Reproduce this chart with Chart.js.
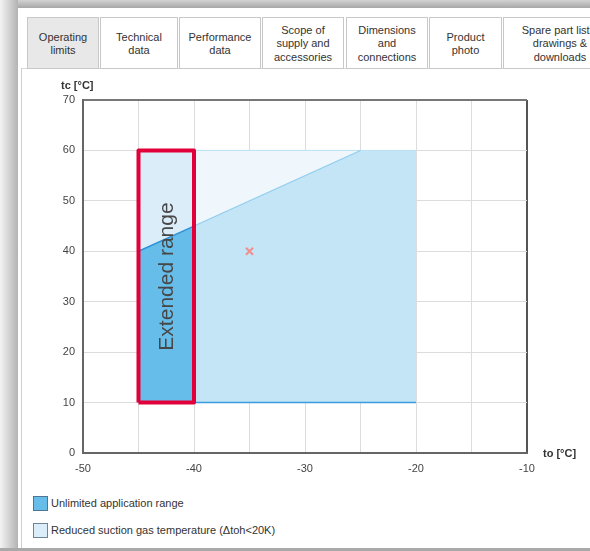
<!DOCTYPE html>
<html><head><meta charset="utf-8">
<script src="https://cdn.jsdelivr.net/npm/chart.js@4.4.1/dist/chart.umd.min.js"></script>
<style>
html,body{margin:0;padding:0;}
body{width:590px;height:551px;overflow:hidden;position:relative;background:#fff;font-family:"Liberation Sans",Arial,sans-serif;}
.shadow-top{position:absolute;left:0;top:0;width:590px;height:8px;background:linear-gradient(to bottom,#d2d2d2,#a7a7a7);}
.shadow-left{position:absolute;left:0;top:0;width:18px;height:551px;background:linear-gradient(to right,#f4f4f4,#b3b3b3);}
.shadow-bottom{position:absolute;left:0;top:548px;width:590px;height:3px;background:#a9a9a9;}
.panel{position:absolute;left:21px;top:68px;width:580px;height:480px;border-left:1px solid #cfcfcf;border-top:1px solid #d8d8d8;box-sizing:border-box;}
.tab{position:absolute;top:17px;height:52px;padding-top:2px;border:1px solid #c8c8c8;box-sizing:border-box;display:flex;align-items:center;justify-content:center;text-align:center;font-size:11px;line-height:13.5px;color:#333;background:#fff;white-space:nowrap;}
.tab.active{background:#e8e8e8;}
.lg-box{position:absolute;left:33px;width:15px;height:15px;box-sizing:border-box;border:1px solid #4f7590;}
.lg-text{position:absolute;left:51px;font-size:11px;color:#333;line-height:13px;white-space:nowrap;}
#wrap{position:absolute;left:0;top:0;width:590px;height:551px;}
</style>
</head><body>
<div class="shadow-top"></div>
<div class="shadow-left"></div>
<div class="shadow-bottom"></div>
<div class="panel"></div>
<div id="tabs"></div>
<div class="lg-box" style="top:496px;background:#66bde9;"></div>
<div class="lg-text" style="top:497px;" id="lg1"></div>
<div class="lg-box" style="top:523px;background:#dcedfa;border-color:#6f8597;"></div>
<div class="lg-text" style="top:524px;" id="lg2"></div>
<div id="wrap"><canvas id="c" width="590" height="551"></canvas></div>
<script>
// ---- text / categories ----
const tabLabels = ["Operating<br>limits","Technical<br>data","Performance<br>data","Scope of<br>supply and<br>accessories","Dimensions<br>and<br>connections","Product<br>photo","Spare part lists,<br>drawings &amp;<br>downloads"];
const tabEdges = [[27,99],[100,178],[179,261],[262,344],[346,428],[429,502],[503,617]];
const legendLabels = ["Unlimited application range","Reduced suction gas temperature (\u0394toh<20K)"];
const xAxisTitle = "to [\u00b0C]";
const yAxisTitle = "tc [\u00b0C]";
const extendedLabel = "Extended range";

// ---- axis ranges / ticks ----
const xRange = [-50, -10];
const yRange = [0, 70];
const xTickLabels = [-50, -40, -30, -20, -10];
const yTickLabels = [0, 10, 20, 30, 40, 50, 60, 70];

// ---- envelope data (to, tc) ----
const unlimitedRange = [{x:-45,y:10},{x:-45,y:40},{x:-25,y:60},{x:-20,y:60},{x:-20,y:10}];
const reducedRange   = [{x:-45,y:10},{x:-45,y:60},{x:-20,y:60},{x:-20,y:10}];
const extendedTo = [-45, -40];
const extendedTc = [10, 60];
const operatingPoint = [{x:-35,y:40}];

// tabs
const tabsEl = document.getElementById('tabs');
tabLabels.forEach((t,i)=>{
  const d = document.createElement('div');
  d.className = 'tab' + (i===0?' active':'');
  d.style.left = tabEdges[i][0]+'px';
  d.style.width = (tabEdges[i][1]-tabEdges[i][0])+'px';
  d.innerHTML = t;
  tabsEl.appendChild(d);
});
document.getElementById('lg1').textContent = legendLabels[0];
document.getElementById('lg2').textContent = legendLabels[1];

// clip a polygon to xmin <= x <= xmax
function clipX(poly, xmin, xmax){
  function clip(pts, inside, inter){
    const out=[];
    for(let i=0;i<pts.length;i++){
      const a=pts[i], b=pts[(i+1)%pts.length];
      const ia=inside(a), ib=inside(b);
      if(ia) out.push(a);
      if(ia!==ib) out.push(inter(a,b));
    }
    return out;
  }
  const interAt = xv => (a,b)=>({x:xv, y:a.y+(b.y-a.y)*(xv-a.x)/(b.x-a.x)});
  let p = clip(poly, q=>q.x>=xmin, interAt(xmin));
  p = clip(p, q=>q.x<=xmax, interAt(xmax));
  return p;
}
// upper edge of unlimited range (diagonal)
const diagonal = unlimitedRange.slice(1,3);
const diagInExt = clipX([diagonal[0],diagonal[1],diagonal[0]], extendedTo[0], extendedTo[1]).slice(0,2);
const diagOutExt = clipX([diagonal[0],diagonal[1],diagonal[0]], extendedTo[1], 100).slice(0,2);
const extBox = [{x:extendedTo[0],y:extendedTc[0]},{x:extendedTo[0],y:extendedTc[1]},{x:extendedTo[1],y:extendedTc[1]},{x:extendedTo[1],y:extendedTc[0]},{x:extendedTo[0],y:extendedTc[0]}];

function poly(data, color, order){
  return {data, backgroundColor:color, borderWidth:0, borderColor:'transparent', fill:'shape', pointRadius:0, order, tension:0};
}
function edge(data, color, width, order){
  return {data, borderColor:color, borderWidth:width, fill:false, pointRadius:0, order, tension:0};
}

const labelPlugin = {
  id:'labels',
  afterDatasetsDraw(chart){
    const {ctx, scales:{x,y}} = chart;
    ctx.save();
    ctx.fillStyle = '#474747';
    ctx.font = '21px "Liberation Sans", Arial, sans-serif';
    ctx.textAlign = 'center';
    ctx.textBaseline = 'middle';
    ctx.translate(x.getPixelForValue((extendedTo[0]+extendedTo[1])/2), y.getPixelForValue(35));
    ctx.rotate(-Math.PI/2);
    ctx.fillText(extendedLabel, 0, 1);
    ctx.restore();
  },
  afterDraw(chart){
    const {ctx, chartArea} = chart;
    ctx.save();
    ctx.fillStyle = '#333';
    ctx.font = 'bold 11px "Liberation Sans", Arial, sans-serif';
    ctx.textBaseline = 'middle';
    ctx.textAlign = 'left';
    ctx.fillText(yAxisTitle, chartArea.left-22, chartArea.top-14);
    ctx.fillText(xAxisTitle, chartArea.right+16, chartArea.bottom+1);
    ctx.restore();
  }
};

new Chart(document.getElementById('c'), {
  type:'line',
  data:{datasets:[
    poly(reducedRange, '#eff7fc', 20),
    poly(unlimitedRange, '#c3e5f5', 19),
    poly(clipX(reducedRange, extendedTo[0], extendedTo[1]), '#dcedfa', 18),
    poly(clipX(unlimitedRange, extendedTo[0], extendedTo[1]), '#66bde9', 17),
    edge([reducedRange[1], reducedRange[2]], '#bde0f4', 1, 10),
    edge(diagOutExt, '#8fcdef', 1.2, 9),
    edge(diagInExt, '#2e93d6', 1.5, 9),
    edge([unlimitedRange[0], unlimitedRange[4]], '#3a9de0', 1.5, 9),
    {data:extBox, borderColor:'#e2003b', borderWidth:4, borderJoinStyle:'round', fill:false, pointRadius:0, order:2, tension:0},
    {data:operatingPoint, showLine:false, pointStyle:'crossRot', pointRadius:5, borderColor:'#f08f8f', pointBorderWidth:2, borderWidth:2, order:1}
  ]},
  options:{
    responsive:false, animation:false, events:[],
    layout:{padding:{left:0, top:100, right:63, bottom:0}},
    plugins:{legend:{display:false}, tooltip:{enabled:false}},
    scales:{
      x:{type:'linear', min:xRange[0], max:xRange[1],
        afterFit(s){ s.height = 98; },
        afterBuildTicks(s){ const t=[]; for(let v=xRange[0]; v<=xRange[1]; v+=5) t.push({value:v}); s.ticks=t; },
        ticks:{padding:9, color:'#444', font:{family:'"Liberation Sans", Arial, sans-serif', size:11}, autoSkip:false, maxRotation:0,
          callback:(v)=> xTickLabels.includes(v) ? String(v) : ''},
        grid:{drawTicks:false, color:c=> c.tick && c.tick.value===xRange[1] ? '#555' : '#dcdcdc', lineWidth:c=> c.tick && c.tick.value===xRange[1] ? 2 : 1},
        border:{color:'#666', width:2}
      },
      y:{type:'linear', min:yRange[0], max:yRange[1],
        afterFit(s){ s.width = 83; },
        afterBuildTicks(s){ s.ticks = yTickLabels.map(v=>({value:v})); },
        ticks:{padding:8, color:'#444', font:{family:'"Liberation Sans", Arial, sans-serif', size:11}},
        grid:{drawTicks:false, color:c=> c.tick && c.tick.value===yRange[1] ? '#777' : '#dcdcdc', lineWidth:c=> c.tick && c.tick.value===yRange[1] ? 2 : 1},
        border:{color:'#666', width:2}
      }
    }
  },
  plugins:[labelPlugin]
});
</script>
</body></html>
